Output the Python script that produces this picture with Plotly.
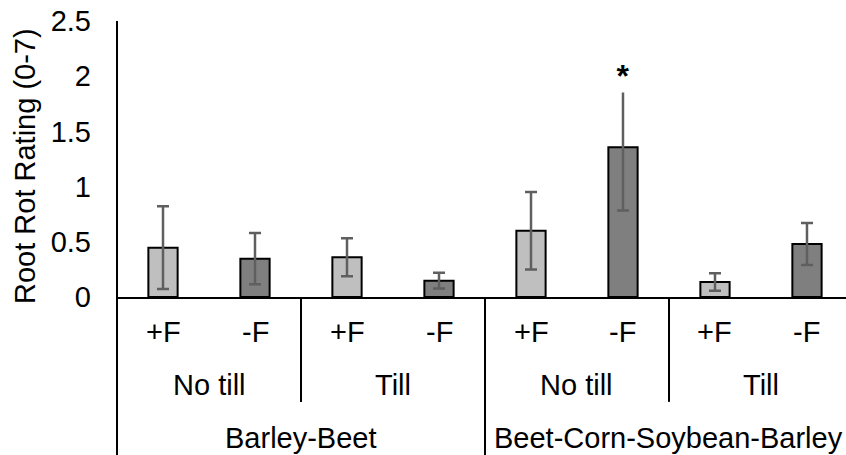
import plotly.graph_objects as go

# ---- data ----
rotations = ["Barley-Beet", "Beet-Corn-Soybean-Barley"]
tillages = ["No till", "Till"]
fertility = ["+F", "-F"]
root_rot = [0.447, 0.347, 0.36, 0.148, 0.60, 1.357, 0.136, 0.48]
std_err = [0.375, 0.232, 0.172, 0.072, 0.35, 0.573, 0.08, 0.19]
significant = [False, False, False, False, False, True, False, False]
y_ticks = [0, 0.5, 1, 1.5, 2, 2.5]

fill_colors = {"+F": "#BFBFBF", "-F": "#7F7F7F"}

# build the flat category list (rotation > tillage > fertility)
cats = []
for r in rotations:
    for t in tillages:
        for f in fertility:
            cats.append((r, t, f))
xpos = list(range(len(cats)))

FONT = "Liberation Sans, Arial, sans-serif"
FS = 29

fig = go.Figure()
fig.add_trace(go.Bar(
    x=xpos, y=root_rot, width=0.318,
    marker=dict(color=[fill_colors[c[2]] for c in cats],
                line=dict(color="black", width=2)),
    error_y=dict(type="data", array=std_err, visible=True,
                 color="#5F5F5F", thickness=2.5, width=6),
    showlegend=False, hoverinfo="skip",
))

annotations = []
# significance markers
for i, (v, e, s) in enumerate(zip(root_rot, std_err, significant)):
    if s:
        annotations.append(dict(
            x=xpos[i], y=v + 0.488, xref="x", yref="y", text="<b>*</b>",
            showarrow=False, bgcolor="white", yanchor="bottom",
            height=33, width=22, valign="middle", borderpad=0,
            font=dict(family=FONT, size=32, color="black")))

# level 1: fertility labels
for i, c in enumerate(cats):
    annotations.append(dict(x=xpos[i], y=0, xref="x", yref="paper",
                            text=c[2], showarrow=False, yanchor="middle",
                            yshift=-35, font=dict(family=FONT, size=FS, color="black")))
# level 2: tillage labels
for gi in range(len(rotations) * len(tillages)):
    xc = (xpos[gi * 2] + xpos[gi * 2 + 1]) / 2
    annotations.append(dict(x=xc, y=0, xref="x", yref="paper",
                            text=tillages[gi % 2], showarrow=False, yanchor="middle",
                            yshift=-88, font=dict(family=FONT, size=FS, color="black")))
# level 3: rotation labels
for ri, r in enumerate(rotations):
    xc = (xpos[ri * 4] + xpos[ri * 4 + 3]) / 2
    annotations.append(dict(x=xc, y=0, xref="x", yref="paper",
                            text=r, showarrow=False, yanchor="middle",
                            yshift=-141, font=dict(family=FONT, size=FS, color="black")))

# y-axis title
annotations.append(dict(x=0, y=0.5, xref="paper", yref="paper",
                        text="Root Rot Rating (0-7)", textangle=-90,
                        showarrow=False, xanchor="center", yanchor="middle",
                        xshift=-92, yshift=-7,
                        font=dict(family=FONT, size=FS, color="black")))

shapes = []
# left axis line extended through label area
shapes.append(dict(type="line", xref="paper", yref="paper", x0=0, x1=0,
                   y0=-0.7, y1=1, line=dict(color="black", width=2)))
# separators between tillage groups
for sep in [1.5, 5.5]:
    shapes.append(dict(type="line", xref="x", yref="paper", x0=sep, x1=sep,
                       y0=0, y1=-0.38, line=dict(color="black", width=2)))
# separator between rotations
shapes.append(dict(type="line", xref="x", yref="paper", x0=3.5, x1=3.5,
                   y0=0, y1=-0.7, line=dict(color="black", width=2)))

fig.update_layout(
    width=846, height=455,
    margin=dict(l=117, r=0, t=21, b=158),
    plot_bgcolor="white", paper_bgcolor="white",
    font=dict(family=FONT, size=FS, color="black"),
    xaxis=dict(range=[-0.5, 7.424], showticklabels=False, ticks="",
               showgrid=False, zeroline=False, showline=True,
               linecolor="black", linewidth=2, fixedrange=True),
    yaxis=dict(range=[0, 2.5], tickvals=y_ticks, ticks="", showgrid=False,
               zeroline=False, showline=False, ticklabelstandoff=25,
               tickfont=dict(family=FONT, size=FS, color="black")),
    annotations=annotations, shapes=shapes,
)

fig.write_html("out.html")
